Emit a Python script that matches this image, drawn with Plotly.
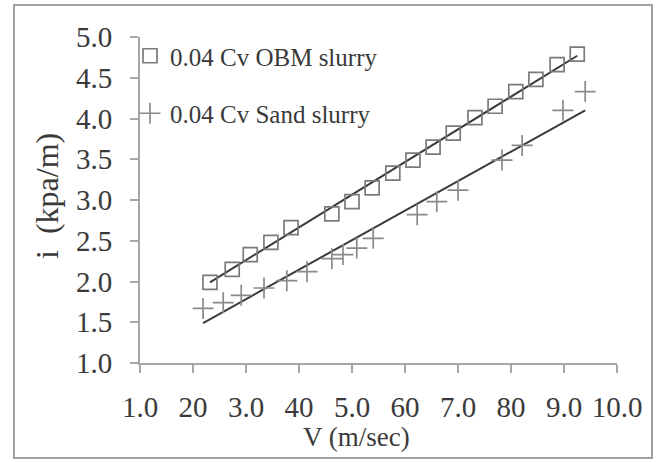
import plotly.graph_objects as go
import numpy as np

# Data
obm_v = [2.32, 2.74, 3.08, 3.47, 3.85, 4.62, 5.00, 5.38, 5.77, 6.15, 6.53, 6.91, 7.32, 7.70, 8.09, 8.47, 8.87, 9.25]
obm_i = [1.99, 2.15, 2.33, 2.48, 2.66, 2.83, 2.98, 3.15, 3.33, 3.49, 3.65, 3.82, 4.01, 4.15, 4.33, 4.48, 4.66, 4.79]

sand_v = [2.19, 2.57, 2.91, 3.34, 3.77, 4.15, 4.62, 4.83, 5.09, 5.40, 6.23, 6.60, 7.00, 7.83, 8.21, 8.98, 9.40]
sand_i = [1.67, 1.74, 1.83, 1.92, 2.01, 2.12, 2.28, 2.33, 2.41, 2.53, 2.82, 2.98, 3.12, 3.49, 3.67, 4.10, 4.33]

# model lines
obm_fit_v = [2.32, 9.25]
obm_fit_i = [1.99, 4.77]
sand_fit_v = [2.19, 9.40]
sand_fit_i = [1.49, 4.10]

x_tickvals = [1, 2, 3, 4, 5, 6, 7, 8, 9, 10]
x_ticktext = ["1.0", "20", "3.0", "40", "5.0", "60", "7.0", "80", "9.0", "10.0"]
y_tickvals = [1.0, 1.5, 2.0, 2.5, 3.0, 3.5, 4.0, 4.5, 5.0]
y_ticktext = ["1.0", "1.5", "2.0", "2.5", "3.0", "3.5", "4.0", "4.5", "5.0"]

FONT = "Liberation Serif"
AX = "#a6a6a6"
TXT = "#3a3a3a"

fig = go.Figure()
fig.add_trace(go.Scatter(x=obm_fit_v, y=obm_fit_i, mode="lines",
                         line=dict(color="#3a3a3a", width=2), showlegend=False, hoverinfo="skip"))
fig.add_trace(go.Scatter(x=sand_fit_v, y=sand_fit_i, mode="lines",
                         line=dict(color="#3a3a3a", width=2), showlegend=False, hoverinfo="skip"))
fig.add_trace(go.Scatter(x=obm_v, y=obm_i, mode="markers", name="0.04 Cv OBM slurry",
                         legendgroup="a",
                         marker=dict(symbol="square-open", size=14, color="#7a7a7a", line=dict(width=1.7, color="#7a7a7a"))))
fig.add_trace(go.Scatter(x=sand_v, y=sand_i, mode="markers", name="0.04 Cv Sand slurry",
                         legendgroup="b",
                         marker=dict(symbol="cross-thin-open", size=15, color="#8a8a8a", line=dict(width=1.7, color="#8a8a8a"))))

L, R, T, B = 140, 617, 37, 363
W, H = 658, 462
def px(x):
    return (x - L) / (R - L)
def py(y):
    return (B - y) / (B - T)

fig.update_layout(
    width=W, height=H,
    margin=dict(l=L, r=W - R, t=T, b=H - B),
    paper_bgcolor="white", plot_bgcolor="white",
    font=dict(family=FONT, color=TXT),
    showlegend=True,
    legend=dict(x=px(130), y=py(33), xanchor="left", yanchor="top",
                bgcolor="rgba(0,0,0,0)", font=dict(family=FONT, size=25, color=TXT),
                tracegroupgap=22, traceorder="grouped", itemwidth=30),
    xaxis=dict(range=[1, 10], tickmode="array", tickvals=x_tickvals, ticktext=x_ticktext,
               showgrid=False, zeroline=False, showline=True, linecolor=AX, linewidth=2,
               ticks="outside", ticklen=8, tickcolor=AX, tickwidth=1.5,
               tickfont=dict(family=FONT, size=29, color=TXT), ticklabelstandoff=9),
    yaxis=dict(range=[1, 5], tickmode="array", tickvals=y_tickvals, ticktext=y_ticktext,
               showgrid=False, zeroline=False, showline=True, linecolor=AX, linewidth=2,
               ticks="outside", ticklen=8, tickcolor=AX, tickwidth=1.5,
               tickfont=dict(family=FONT, size=29, color=TXT), ticklabelstandoff=12),
    annotations=[
        dict(text="V (m/sec)", x=px(356), y=py(437), xref="paper", yref="paper",
             showarrow=False, font=dict(family=FONT, size=27, color=TXT),
             xanchor="center", yanchor="middle"),
        dict(text="i  (kpa/m)", x=px(47), y=py(196), xref="paper", yref="paper",
             showarrow=False, textangle=-90, font=dict(family=FONT, size=32, color=TXT),
             xanchor="center", yanchor="middle"),
    ],
    shapes=[dict(type="rect", xref="paper", yref="paper",
                 x0=px(14), x1=px(652), y0=py(458), y1=py(5),
                 line=dict(color="#a0a0a0", width=2), fillcolor="rgba(0,0,0,0)", layer="below")],
)

fig.write_html("out.html")
